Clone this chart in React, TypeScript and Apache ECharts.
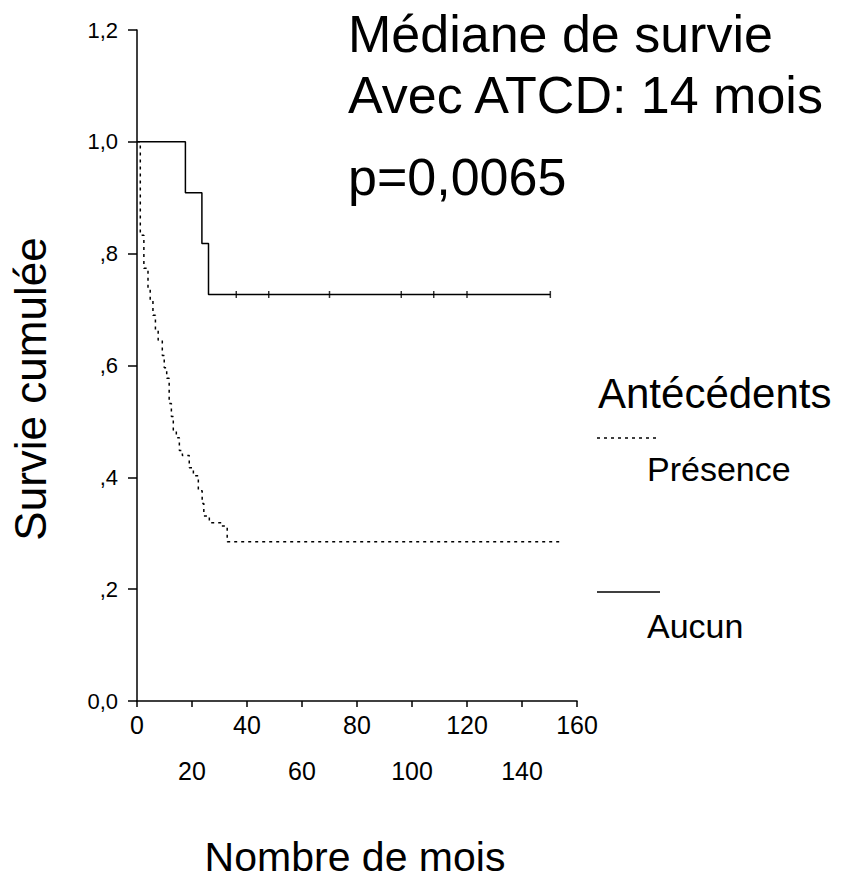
import React, { useEffect, useRef } from "react";
import * as echarts from "echarts";

// Kaplan-Meier data (time in months, cumulative survival)
const presenceTimes = [0, 1.2, 2.5, 4.0, 4.8, 5.8, 6.7, 7.7, 9.2, 9.9, 10.8, 11.7, 12.5, 13.2, 14.3, 15.4, 16.5, 19.0, 20.5, 22.3, 23.7, 24.3, 26.3, 30.7, 32.8, 154.5];
const presenceSurvival = [1.0, 0.833, 0.774, 0.736, 0.716, 0.69, 0.663, 0.645, 0.618, 0.596, 0.577, 0.532, 0.509, 0.484, 0.471, 0.448, 0.439, 0.417, 0.403, 0.376, 0.353, 0.331, 0.319, 0.313, 0.285, 0.285];

const aucunTimes = [0, 17.6, 23.6, 26.0, 150.3];
const aucunSurvival = [1.0, 0.909, 0.818, 0.727, 0.727];
const aucunCensorTimes = [36.1, 47.9, 70.0, 96.1, 107.9, 120.0, 150.3];
const aucunCensorLevel = 0.727;

const xTicks = [0, 20, 40, 60, 80, 100, 120, 140, 160];
const xLabelsRow1 = [0, 40, 80, 120, 160];
const xLabelsRow2 = [20, 60, 100, 140];
const yTickLabels = ["0,0", ",2", ",4", ",6", ",8", "1,0", "1,2"];

const titleLines = ["Médiane de survie", "Avec ATCD: 14 mois", "p=0,0065"];
const legendTitle = "Antécédents";
const legendNames = ["Présence", "Aucun"];
const yAxisTitle = "Survie cumulée";
const xAxisTitle = "Nombre de mois";

const FONT = "'Liberation Sans', Arial, Helvetica, sans-serif";

export default function App() {
  const ref = useRef<HTMLDivElement>(null);

  useEffect(() => {
    if (!ref.current) return;
    const chart = echarts.init(ref.current, undefined, { renderer: "svg" });

    const presenceData = presenceTimes.map((t, i) => [t, presenceSurvival[i]]);
    const aucunData = aucunTimes.map((t, i) => [t, aucunSurvival[i]]);
    const censorData = aucunCensorTimes.map((t) => [t, aucunCensorLevel]);

    const option: any = {
      animation: false,
      backgroundColor: "#ffffff",
      grid: { left: 137, top: 30, width: 440, height: 671, containLabel: false },
      xAxis: [
        {
          type: "value",
          min: 0,
          max: 160,
          interval: 20,
          axisLine: { show: true, lineStyle: { color: "#000", width: 1.5 } },
          axisTick: { show: true, length: 6, lineStyle: { color: "#000", width: 1.5 }, customValues: xTicks },
          axisLabel: {
            customValues: xLabelsRow1,
            color: "#000",
            fontSize: 25,
            fontFamily: FONT,
            margin: 11,
          },
          splitLine: { show: false },
        },
        {
          type: "value",
          position: "bottom",
          min: 0,
          max: 160,
          interval: 20,
          axisLine: { show: false },
          axisTick: { show: false },
          axisLabel: {
            customValues: xLabelsRow2,
            color: "#000",
            fontSize: 25,
            fontFamily: FONT,
            margin: 57,
          },
          splitLine: { show: false },
        },
      ],
      yAxis: {
        type: "value",
        min: 0,
        max: 1.2,
        interval: 0.2,
        axisLine: { show: true, lineStyle: { color: "#000", width: 1.5 } },
        axisTick: { show: true, length: 9, lineStyle: { color: "#000", width: 1.5 } },
        axisLabel: {
          color: "#000",
          fontSize: 22,
          fontFamily: FONT,
          margin: 19,
          formatter: (v: number) => yTickLabels[Math.round(v / 0.2)] ?? "",
        },
        splitLine: { show: false },
      },
      series: [
        {
          name: legendNames[0],
          type: "line",
          step: "end",
          data: presenceData,
          showSymbol: false,
          lineStyle: { color: "#000", width: 1.5, type: [3, 4] },
          z: 3,
        },
        {
          name: legendNames[1],
          type: "line",
          step: "end",
          data: aucunData,
          showSymbol: false,
          lineStyle: { color: "#000", width: 1.5 },
          z: 3,
        },
        {
          type: "scatter",
          data: censorData,
          symbol: "rect",
          symbolSize: [1.5, 7],
          itemStyle: { color: "#000" },
          z: 4,
        },
      ],
      graphic: [
        { type: "text", x: 348, y: 34, style: { text: titleLines[0], font: `52px ${FONT}`, fill: "#000", verticalAlign: "middle" } },
        { type: "text", x: 348, y: 95, style: { text: titleLines[1], font: `52px ${FONT}`, fill: "#000", verticalAlign: "middle" } },
        { type: "text", x: 348, y: 177, style: { text: titleLines[2], font: `52px ${FONT}`, fill: "#000", verticalAlign: "middle" } },
        {
          type: "text",
          x: 30,
          y: 389,
          rotation: Math.PI / 2,
          style: { text: yAxisTitle, font: `44px ${FONT}`, fill: "#000", align: "center", verticalAlign: "middle" },
        },
        {
          type: "text",
          x: 355,
          y: 857,
          style: { text: xAxisTitle, font: `41px ${FONT}`, fill: "#000", align: "center", verticalAlign: "middle" },
        },
        { type: "text", x: 598, y: 393, style: { text: legendTitle, font: `42px ${FONT}`, fill: "#000", verticalAlign: "middle" } },
        {
          type: "line",
          shape: { x1: 597, y1: 438, x2: 660, y2: 438 },
          style: { stroke: "#000", lineWidth: 1.5, lineDash: [3, 4] },
        },
        { type: "text", x: 647, y: 469, style: { text: legendNames[0], font: `34px ${FONT}`, fill: "#000", verticalAlign: "middle" } },
        {
          type: "line",
          shape: { x1: 597, y1: 592, x2: 660, y2: 592 },
          style: { stroke: "#000", lineWidth: 1.5 },
        },
        { type: "text", x: 647, y: 626, style: { text: legendNames[1], font: `34px ${FONT}`, fill: "#000", verticalAlign: "middle" } },
      ],
    };

    chart.setOption(option);
    return () => chart.dispose();
  }, []);

  return (
    <div
      ref={ref}
      style={{ position: "absolute", left: 0, top: 0, width: 844, height: 880, background: "#fff" }}
    />
  );
}
